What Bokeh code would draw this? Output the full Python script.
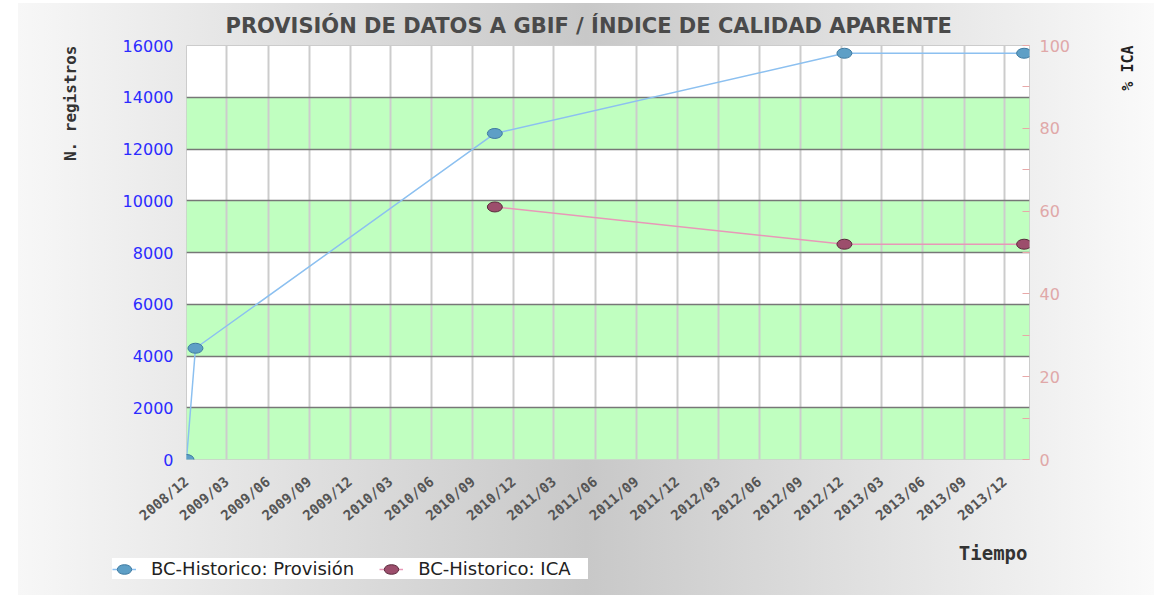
import math
import pandas as pd
from bokeh.plotting import figure
from bokeh.layouts import column
from bokeh.models import (Range1d, LinearAxis, FixedTicker, DatetimeTickFormatter,
                          Legend, LegendItem, Title, ColumnDataSource,
                          BoxAnnotation, Label)
from bokeh.embed import file_html
from bokeh.resources import INLINE

# ---------------- data ----------------
title_text = "PROVISIÓN DE DATOS A GBIF / ÍNDICE DE CALIDAD APARENTE"
x_tick_labels = ["2008/12", "2009/03", "2009/06", "2009/09", "2009/12",
                 "2010/03", "2010/06", "2010/09", "2010/12",
                 "2011/03", "2011/06", "2011/09", "2011/12",
                 "2012/03", "2012/06", "2012/09", "2012/12",
                 "2013/03", "2013/06", "2013/09", "2013/12"]
prov_dates = ["2008-12-01", "2008-12-21", "2010-10-20", "2012-12-08", "2014-01-13"]
prov_values = [0, 4300, 12600, 15700, 15700]
ica_dates = ["2010-10-20", "2012-12-08", "2014-01-13"]
ica_values = [61, 52, 52]
left_ticks = [0, 2000, 4000, 6000, 8000, 10000, 12000, 14000, 16000]
right_ticks = [0, 20, 40, 60, 80, 100]
series_names = ["BC-Historico: Provisión", "BC-Historico: ICA"]

BG = {"background": "linear-gradient(to right, #f7f7f7 0%, #c8c8c8 50%, #fafafa 100%)"}
W = 1136

# ---------------- main figure ----------------
tick_ms = [int(pd.Timestamp(pd.to_datetime(t, format="%Y/%m")).value // 10**6) for t in x_tick_labels]
x_range = Range1d(pd.Timestamp("2008-12-01"), pd.Timestamp("2014-01-25"))

p = figure(width=W, height=537, x_axis_type="datetime", x_range=x_range,
           y_range=Range1d(left_ticks[0], left_ticks[-1]),
           output_backend="svg", toolbar_location=None,
           min_border_left=168, min_border_right=125,
           min_border_top=41, min_border_bottom=81)
p.frame_align = False
p.margin = (3, 0, 0, 18)
p.background_fill_color = "white"
p.border_fill_color = None
p.styles = BG
p.outline_line_color = "#cccccc"
p.outline_line_width = 1

p.title.text = title_text
p.title.align = "left"
p.title.offset = 39
p.title.text_font = "DejaVu Sans"
p.title.text_font_size = "21px"
p.title.text_font_style = "bold"
p.title.text_color = "#4a4a4a"
p.title.standoff = 16

# x axis
xa = p.xaxis[0]
xa.ticker = FixedTicker(ticks=tick_ms)
fmt = "%Y/%m"
xa.formatter = DatetimeTickFormatter(milliseconds=fmt, seconds=fmt, minsec=fmt, minutes=fmt,
                                     hourmin=fmt, hours=fmt, days=fmt, months=fmt, years=fmt)
xa.major_label_orientation = math.radians(40)
xa.major_label_text_font = "DejaVu Sans Mono"
xa.major_label_text_font_size = "14px"
xa.major_label_text_font_style = "bold"
xa.major_label_text_color = "#555555"
xa.major_label_standoff = 20
xa.axis_line_color = None
xa.major_tick_line_color = None
xa.minor_tick_line_color = None
xa.major_tick_out = 0
xa.minor_tick_out = 0

# left axis
ya = p.yaxis[0]
ya.ticker = FixedTicker(ticks=left_ticks)
ya.major_label_text_font = "DejaVu Sans"
ya.major_label_text_font_size = "16px"
ya.major_label_text_color = "#2b2bff"
ya.major_label_standoff = 13
ya.axis_line_color = None
ya.major_tick_line_color = None
ya.minor_tick_line_color = None
ya.major_tick_out = 0
ya.minor_tick_out = 0

p.add_layout(Title(text="N. registros", align="right", text_font="DejaVu Sans Mono",
                   text_font_size="16px", text_font_style="bold", text_color="#333333",
                   standoff=79), "left")

# right axis
p.extra_y_ranges = {"ica": Range1d(right_ticks[0], right_ticks[-1])}
minor_right = [(a + b) / 2 for a, b in zip(right_ticks[:-1], right_ticks[1:])]
ra = LinearAxis(y_range_name="ica", ticker=FixedTicker(ticks=right_ticks, minor_ticks=minor_right))
ra.major_label_text_font = "DejaVu Sans"
ra.major_label_text_font_size = "16px"
ra.major_label_text_color = "#e0a8a8"
ra.major_label_standoff = 10
ra.axis_line_color = None
ra.major_tick_line_color = "#e8a8a8"
ra.minor_tick_line_color = "#e8a8a8"
ra.major_tick_in = 7
ra.major_tick_out = 0
ra.minor_tick_in = 7
ra.minor_tick_out = 0
p.add_layout(ra, "right")

p.add_layout(Label(x=54, y=414, x_units="screen", y_units="screen", text="% ICA",
                   angle=math.pi / 2, text_align="right", text_baseline="middle",
                   text_font="DejaVu Sans Mono", text_font_size="15px",
                   text_font_style="bold", text_color="#222222"), "right")

# bands and grids
for lo, hi in zip(left_ticks[0::2], left_ticks[1::2]):
    p.add_layout(BoxAnnotation(bottom=lo, top=hi, fill_color="#c0ffc0", fill_alpha=1,
                               line_color=None, level="image"))

p.xgrid.ticker = FixedTicker(ticks=tick_ms)
p.xgrid.grid_line_color = "#cccccc"
p.xgrid.grid_line_width = 2
p.xgrid.level = "underlay"

p.ygrid.ticker = FixedTicker(ticks=left_ticks)
p.ygrid.grid_line_color = "#777777"
p.ygrid.grid_line_width = 1.5
p.ygrid.level = "underlay"

# series
src_p = ColumnDataSource(dict(x=pd.to_datetime(prov_dates), y=prov_values))
src_i = ColumnDataSource(dict(x=pd.to_datetime(ica_dates), y=ica_values))

P_LINE, P_FILL, P_EDGE = "#8cc0f0", "#5e9fc6", "#3f7aa0"
I_LINE, I_FILL, I_EDGE = "#e898b8", "#9c4e6c", "#5a2a3c"

p.line("x", "y", source=src_p, line_color=P_LINE, line_width=1.5)
p.ellipse("x", "y", source=src_p, width=15, height=10, width_units="screen",
          height_units="screen", fill_color=P_FILL, line_color=P_EDGE, line_width=1)

p.line("x", "y", source=src_i, y_range_name="ica", line_color=I_LINE, line_width=1.5)
p.ellipse("x", "y", source=src_i, y_range_name="ica", width=15, height=10,
          width_units="screen", height_units="screen", fill_color=I_FILL,
          line_color=I_EDGE, line_width=1)

# ---------------- bottom strip: legend + x-axis title ----------------
q = figure(width=W, height=55, x_axis_type="datetime", x_range=x_range,
           y_range=Range1d(-200, -100), output_backend="svg", toolbar_location=None,
           title=None, x_axis_location=None, y_axis_location=None, min_border=0)
q.frame_align = False
q.margin = (0, 0, 0, 18)
q.background_fill_color = None
q.border_fill_color = None
q.outline_line_color = None
q.grid.visible = False
q.styles = BG

qlp = q.line("x", "y", source=src_p, line_color=P_LINE, line_width=1.5)
qep = q.ellipse("x", "y", source=src_p, width=15, height=10, width_units="screen",
                height_units="screen", fill_color=P_FILL, line_color=P_EDGE, line_width=1)
qli = q.line("x", "y", source=src_i, line_color=I_LINE, line_width=1.5)
qei = q.ellipse("x", "y", source=src_i, width=15, height=10, width_units="screen",
                height_units="screen", fill_color=I_FILL, line_color=I_EDGE, line_width=1)

legend = Legend(items=[LegendItem(label=series_names[0], renderers=[qlp, qep]),
                       LegendItem(label=series_names[1], renderers=[qli, qei])],
                orientation="horizontal", location=(94, 16),
                background_fill_color="white", background_fill_alpha=1,
                border_line_color=None, label_text_font="DejaVu Sans",
                label_text_font_size="18px", label_text_color="#222222",
                glyph_width=24, glyph_height=18, label_height=18, label_width=170,
                label_standoff=15, spacing=25, padding=10, margin=0)
q.add_layout(legend)

q.add_layout(Label(x=1009, y=43, x_units="screen", y_units="screen", text="Tiempo",
                   text_align="right", text_baseline="middle",
                   text_font="DejaVu Sans Mono", text_font_size="19px",
                   text_font_style="bold", text_color="#333333"))

layout = column(p, q, spacing=0)
open("out.html", "w").write(file_html(layout, INLINE))
